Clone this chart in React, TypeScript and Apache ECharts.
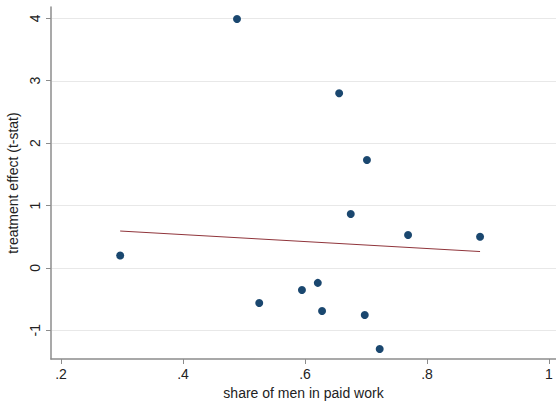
import React, { useEffect, useRef } from "react";
import * as echarts from "echarts";

const shareMen = [0.4885, 0.656, 0.7016, 0.675, 0.769, 0.887, 0.297, 0.621, 0.595, 0.525, 0.628, 0.698, 0.7225];
const tStat = [3.99, 2.8, 1.73, 0.865, 0.527, 0.5, 0.198, -0.24, -0.354, -0.563, -0.69, -0.755, -1.3];
const fitX = [0.297, 0.887];
const fitY = [0.591, 0.262];
const yTicks = [-1, 0, 1, 2, 3, 4];

const X_MIN = 0.1836;
const X_MAX = 1.0115;
const Y_MIN = -1.46;
const Y_MAX = 4.181;

const FONT = "'Liberation Sans', Arial, Helvetica, sans-serif";

export default function App() {
  const ref = useRef<HTMLDivElement>(null);
  useEffect(() => {
    if (!ref.current) return;
    const chart = echarts.init(ref.current, null, { renderer: "svg" });
    const axisColor = "#8c8c8c";
    const near = (v: number, step: number) => Math.abs(v / step - Math.round(v / step)) < 1e-6;
    chart.setOption({
      animation: false,
      backgroundColor: "#ffffff",
      textStyle: { fontFamily: FONT },
      grid: { left: 51, top: 7, right: 0, bottom: 47, containLabel: false, outerBoundsMode: "none" },
      xAxis: {
        type: "value",
        min: X_MIN,
        max: X_MAX,
        splitNumber: 4,
        name: "share of men in paid work",
        nameLocation: "middle",
        nameGap: 25,
        nameTextStyle: { fontSize: 14, color: "#222", fontFamily: FONT },
        axisLine: { show: true, onZero: false, lineStyle: { color: axisColor, width: 1.5 } },
        axisTick: { show: true, length: 5, lineStyle: { color: axisColor, width: 1 } },
        splitLine: { show: false },
        axisLabel: {
          showMinLabel: false,
          showMaxLabel: false,
          margin: 8,
          fontSize: 14,
          color: "#222",
          fontFamily: FONT,
          formatter: (v: number) => (near(v, 0.2) ? String(+v.toFixed(2)).replace(/^0\./, ".") : ""),
        },
      },
      yAxis: {
        type: "value",
        min: Y_MIN,
        max: Y_MAX,
        splitNumber: 5,
        name: "treatment effect (t-stat)",
        nameLocation: "middle",
        nameGap: 24,
        nameTextStyle: { fontSize: 14, color: "#222", fontFamily: FONT },
        axisLine: { show: true, onZero: false, lineStyle: { color: axisColor, width: 1.5 } },
        axisTick: { show: true, length: 5, lineStyle: { color: axisColor, width: 1 } },
        splitLine: { show: false },
        axisLabel: {
          rotate: 90,
          showMinLabel: false,
          showMaxLabel: false,
          margin: 9,
          fontSize: 14,
          color: "#222",
          fontFamily: FONT,
          formatter: (v: number) => (near(v, 1) ? String(Math.round(v)) : ""),
        },
      },
      series: [
        {
          type: "custom",
          name: "grid",
          silent: true,
          z: 0,
          encode: { x: 0, y: 1 },
          data: yTicks.map((v) => [X_MIN, v]),
          renderItem: (params: any, api: any) => {
            const cs = params.coordSys;
            const y = Math.round(api.coord([X_MIN, api.value(1)])[1]) + 0.5;
            return {
              type: "line",
              shape: { x1: cs.x + 1, y1: y, x2: cs.x + cs.width, y2: y },
              style: { stroke: "#e8e8e8", lineWidth: 1 },
            };
          },
        },
        {
          type: "line",
          data: fitX.map((x, i) => [x, fitY[i]]),
          showSymbol: false,
          symbol: "none",
          lineStyle: { color: "#90353b", width: 1 },
          itemStyle: { color: "#90353b" },
          z: 2,
        },
        {
          type: "scatter",
          data: shareMen.map((x, i) => [x, tStat[i]]),
          symbol: "circle",
          symbolSize: 8,
          itemStyle: { color: "#1a476f", opacity: 1 },
          z: 3,
        },
      ],
    });
    return () => chart.dispose();
  }, []);
  return (
    <div
      ref={ref}
      style={{ position: "fixed", left: 0, top: 0, width: 556, height: 406, background: "#fff" }}
    />
  );
}
